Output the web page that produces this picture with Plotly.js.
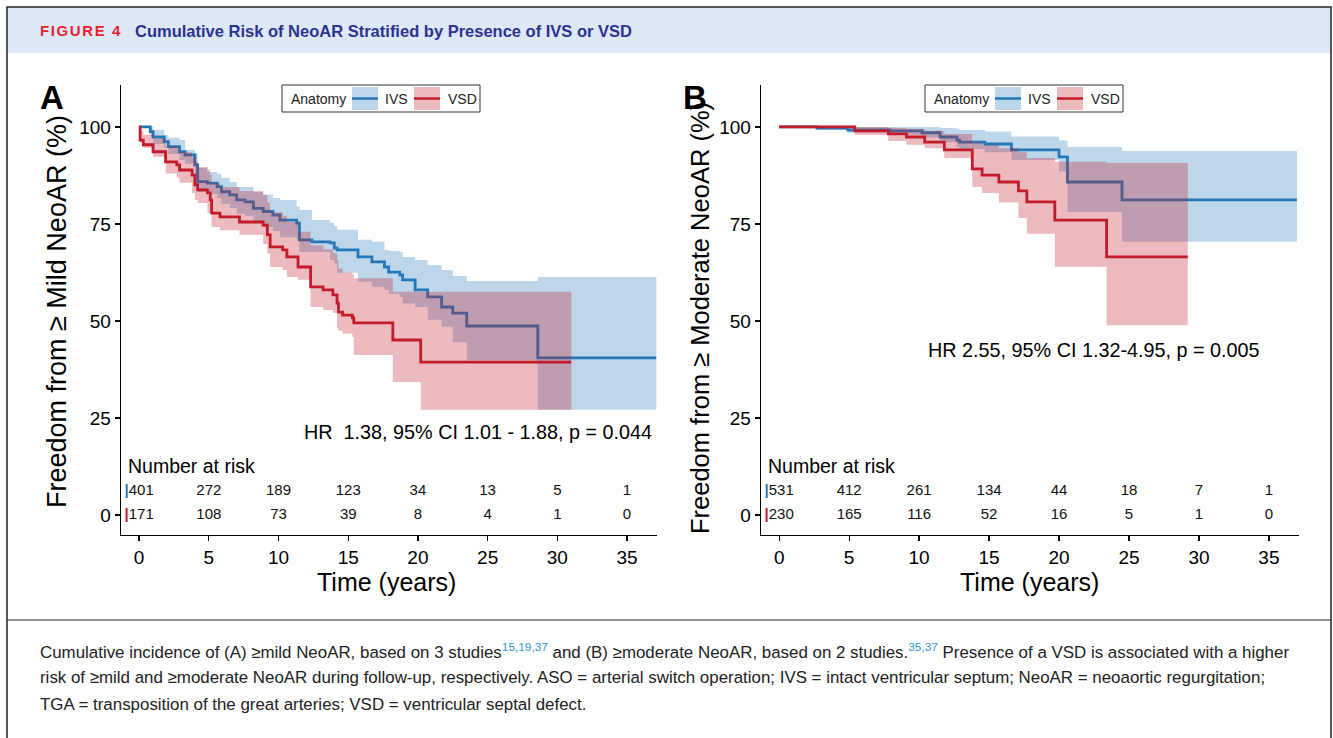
<!DOCTYPE html>
<html><head><meta charset="utf-8">
<script src="https://cdn.plot.ly/plotly-3.0.1.min.js"></script>
<style>html,body{margin:0;padding:0;background:#fff;} #chart{width:1333px;height:738px;}</style>
</head><body><div id="chart"></div>
<script>
// ---------------- DATA ----------------
const riskTimes = [0, 5, 10, 15, 20, 25, 30, 35];
const yTicks = [0, 25, 50, 75, 100];
const riskA_IVS = [401, 272, 189, 123, 34, 13, 5, 1];
const riskA_VSD = [171, 108, 73, 39, 8, 4, 1, 0];
const riskB_IVS = [531, 412, 261, 134, 44, 18, 7, 1];
const riskB_VSD = [230, 165, 116, 52, 16, 5, 1, 0];

// Panel A: freedom from >= mild NeoAR
const A_IVS_t  = [0,0.8,1.0,1.8,2.1,2.9,3.3,4.0,4.2,4.9,5.6,5.9,6.5,7.0,7.6,8.2,8.9,9.6,10.1,11.3,11.5,12.4,13.7,14.0,14.2,15.7,16.7,17.6,17.9,18.7,18.9,19.8,20.7,21.7,22.5,23.5,28.6,37.1];
const A_IVS_s  = [100,98.8,97.4,96.2,94.9,93.6,92.8,90.2,85.9,85.5,84.6,83.3,82.5,81.2,80.7,79.0,78.2,77.3,76.0,75.2,70.9,70.4,70.1,68.8,68.3,66.5,65.2,63.9,62.6,61.9,60.6,58.0,56.2,53.6,52.0,48.7,40.5,40.5];
const A_IVS_hi = [100,100,99.2,97.9,97.2,96.6,94.1,93.3,89.4,88.4,87.9,86.9,85.8,84.5,84.5,83.2,82.5,81.7,81.2,79.4,78.6,76.0,75.3,74.5,73.5,70.9,70.4,68.3,68.0,67.8,66.5,65.7,64.4,63.1,61.6,60.3,61.3,61.3];
const A_IVS_lo = [100,97.7,95.6,94.6,93.0,91.5,90.5,87.6,83.2,82.7,81.7,80.2,79.1,77.6,77.1,75.3,74.2,73.2,71.6,70.9,67.8,67.8,65.7,64.9,62.4,60.1,58.8,58.0,57.0,56.2,54.5,53.6,50.3,48.5,44.5,39.9,27.1,27.1];

const A_VSD_t  = [0,0.07,0.3,1.0,1.9,2.7,2.9,3.8,4.0,4.2,4.9,5.1,5.2,5.8,7.2,8.9,9.2,9.4,10.3,10.6,11.4,12.3,13.2,13.9,14.2,14.3,14.6,15.3,15.4,18.2,20.2,31.0];
const A_VSD_s  = [100,96.6,95.4,93.6,91.0,90.2,88.9,87.6,85.1,83.8,83.0,81.2,77.8,76.8,75.5,74.7,72.2,69.1,68.3,66.5,63.9,58.8,58.0,56.7,54.6,52.3,51.5,50.8,49.5,45.1,39.4,39.4];
const A_VSD_hi = [100,99,98,97,95,94.5,93.5,92.3,91,89.7,89,87.6,85.5,84.5,83.5,82.5,80.5,78,77,75.5,73,69.5,68.5,67.5,65.5,63.5,62.5,62,61,57.5,57.5,57.5];
const A_VSD_lo = [100,95.9,94.6,92.3,88.0,86.9,85.6,83.0,81.2,80.4,77.8,77.8,74.2,73.4,72.2,69.8,67.3,63.9,63.1,61.3,60.6,53.6,52.8,52.1,48.2,47.5,46.7,45.9,41.2,34.3,27.1,27.1];

// Panel B: freedom from >= moderate NeoAR
const B_IVS_t  = [0,2.7,4.9,7.9,10.2,11.5,12.7,12.9,14.7,16.6,20.0,20.6,24.5,37.0];
const B_IVS_s  = [100,99.7,99.2,99.0,98.5,97.4,96.6,96.1,95.6,94.1,92.3,85.8,81.2,81.2];
const B_IVS_hi = [100,100,100,100,100,99.7,99.5,99.2,98.8,97.5,96.5,94.8,93.8,93.8];
const B_IVS_lo = [100,99.2,98.5,98.0,97.2,96.0,94.8,94.3,93.5,91.5,88.5,78.1,70.4,70.4];

const B_VSD_t  = [0,5.4,7.8,9.1,10.4,11.8,13.8,14.5,15.7,17.1,17.7,19.7,23.4,29.2];
const B_VSD_s  = [100,99.0,98.2,97.4,96.1,94.1,89.2,87.6,85.8,83.5,80.7,76.0,66.5,66.5];
const B_VSD_hi = [100,100,99.7,99.5,99.0,98.2,96.0,95.3,94.5,93.5,92.0,91.0,90.7,90.7];
const B_VSD_lo = [100,97.9,96.4,95.4,94.5,92.0,84.5,83.0,80.5,76.5,72.5,64.0,48.9,48.9];

const hrA = "HR  1.38, 95% CI 1.01 - 1.88, p = 0.044";
const hrB = "HR 2.55, 95% CI 1.32-4.95, p = 0.005";

// ---------------- STYLE ----------------
const W = 1333, H = 738;
const px = x => x / W, py = y => 1 - y / H;
const SANS = "Liberation Sans, Arial, sans-serif";
const BLUE = '#2677b8', RED = '#c11b2c';
const BLUEF = 'rgba(38,119,184,0.3)', REDF = 'rgba(193,27,44,0.3)';

function band(t, lo, hi, fill, xa, ya) {
  return [
    {x: t, y: lo, type: 'scatter', mode: 'lines', line: {width: 0, shape: 'hv'}, xaxis: xa, yaxis: ya, hoverinfo: 'skip'},
    {x: t, y: hi, type: 'scatter', mode: 'lines', line: {width: 0, shape: 'hv'}, fill: 'tonexty', fillcolor: fill, xaxis: xa, yaxis: ya, hoverinfo: 'skip'}
  ];
}
function curve(t, s, color, xa, ya) {
  return {x: t, y: s, type: 'scatter', mode: 'lines', line: {color: color, width: 2.8, shape: 'hv'}, xaxis: xa, yaxis: ya};
}
function riskRow(counts, color, yv, xa, ya) {
  return {
    x: riskTimes, y: riskTimes.map(() => yv),
    text: counts.map((c, i) => i === 0 ? `<span style="color:${color}"><b>|</b></span>${c}` : String(c)),
    mode: 'text', type: 'scatter', textposition: 'middle center',
    textfont: {family: SANS, size: 15, color: '#111'}, xaxis: xa, yaxis: ya, cliponaxis: false, hoverinfo: 'skip'
  };
}

const traces = [
  ...band(A_IVS_t, A_IVS_lo, A_IVS_hi, BLUEF, 'x', 'y'),
  curve(A_IVS_t, A_IVS_s, BLUE, 'x', 'y'),
  ...band(A_VSD_t, A_VSD_lo, A_VSD_hi, REDF, 'x', 'y'),
  curve(A_VSD_t, A_VSD_s, RED, 'x', 'y'),
  riskRow(riskA_IVS, BLUE, 6.2, 'x', 'y'),
  riskRow(riskA_VSD, RED, 0, 'x', 'y'),
  ...band(B_IVS_t, B_IVS_lo, B_IVS_hi, BLUEF, 'x2', 'y2'),
  curve(B_IVS_t, B_IVS_s, BLUE, 'x2', 'y2'),
  ...band(B_VSD_t, B_VSD_lo, B_VSD_hi, REDF, 'x2', 'y2'),
  curve(B_VSD_t, B_VSD_s, RED, 'x2', 'y2'),
  riskRow(riskB_IVS, BLUE, 6.2, 'x2', 'y2'),
  riskRow(riskB_VSD, RED, 0, 'x2', 'y2')
];

const xBase = {range: [-1.3, 37.15], tickvals: riskTimes, showline: true, linecolor: '#000', linewidth: 1.3,
  ticks: 'outside', ticklen: 5, tickwidth: 1.3, tickcolor: '#000', showgrid: false, zeroline: false,
  tickfont: {family: SANS, size: 19, color: '#000'}, fixedrange: true};
const yBase = {range: [-5.15, 110.8], tickvals: yTicks, showline: true, linecolor: '#000', linewidth: 1.3,
  ticks: 'outside', ticklen: 5, tickwidth: 1.3, tickcolor: '#000', showgrid: false, zeroline: false,
  tickfont: {family: SANS, size: 19, color: '#000'}, fixedrange: true, domain: [py(535), py(85)]};

function ann(x, y, text, size, o) {
  return Object.assign({xref: 'paper', yref: 'paper', x: px(x), y: py(y), text: text, showarrow: false,
    font: {family: SANS, size: size, color: '#000'}, xanchor: 'center', yanchor: 'middle'}, o || {});
}

const shapes = [
  {type: 'rect', xref: 'paper', yref: 'paper', x0: px(8), x1: px(1330), y0: py(53), y1: py(8), fillcolor: '#dde9f6', line: {width: 0}, layer: 'below'},
  {type: 'rect', xref: 'paper', yref: 'paper', x0: px(7), x1: px(1331), y0: py(745), y1: py(7), line: {color: '#222', width: 1.5}},
  {type: 'line', xref: 'paper', yref: 'paper', x0: px(7), x1: px(1331), y0: py(620), y1: py(620), line: {color: '#222', width: 1.2}}
];
const capFont = {family: SANS, size: 16.9, color: '#222'};
const annotations = [
  ann(38, 31, '<b><span style="letter-spacing:1.6px">FIGURE 4</span></b>', 15, {xanchor: 'left', font: {family: SANS, size: 15, color: '#e5232e'}}),
  ann(133, 31, '<b>Cumulative Risk of NeoAR Stratified by Presence of IVS or VSD</b>', 16.5, {xanchor: 'left', font: {family: SANS, size: 16.5, color: '#2e3192'}}),
  ann(38, 651, 'Cumulative incidence of (A) ≥mild NeoAR, based on 3 studies<sup><span style="color:#2a9ad6">15,19,37</span></sup> and (B) ≥moderate NeoAR, based on 2 studies.<sup><span style="color:#2a9ad6">35,37</span></sup> Presence of a VSD is associated with a higher', 17, {xanchor: 'left', font: capFont}),
  ann(38, 677, 'risk of ≥mild and ≥moderate NeoAR during follow-up, respectively. ASO = arterial switch operation; IVS = intact ventricular septum; NeoAR = neoaortic regurgitation;', 17, {xanchor: 'left', font: capFont}),
  ann(38, 704, 'TGA = transposition of the great arteries; VSD = ventricular septal defect.', 17, {xanchor: 'left', font: capFont})
];

// per-panel decorations: offset, label, y title, title centre, title size, axes, HR text, HR position
[[0, 'A', 'Freedom from ≥ Mild NeoAR (%)', 312, 27, 'x', 'y', hrA, 24.3, 21.4],
 [643, 'B', 'Freedom from ≥ Moderate NeoAR (%)', 318, 25.5, 'x2', 'y2', hrB, 22.5, 42.5]].forEach(p => {
  const o = p[0];
  annotations.push(ann(52 + o, 98, '<b>' + p[1] + '</b>', 33));
  annotations.push(ann(57 + o, p[3], p[2], p[4], {textangle: -90}));
  annotations.push(ann(386 + o, 582, 'Time (years)', 25));
  annotations.push({xref: p[5], yref: p[6], x: -0.95, y: 12.6, text: 'Number at risk', showarrow: false, xanchor: 'left', yanchor: 'middle', font: {family: SANS, size: 19.5, color: '#000'}});
  annotations.push({xref: p[5], yref: p[6], x: p[8], y: p[9], text: p[7], showarrow: false, xanchor: 'center', yanchor: 'middle', font: {family: SANS, size: 19.8, color: '#000'}});
  // legend box
  shapes.push({type: 'rect', xref: 'paper', yref: 'paper', x0: px(282 + o), x1: px(480 + o), y0: py(112), y1: py(85), line: {color: '#333', width: 1}, fillcolor: '#fff'});
  shapes.push({type: 'rect', xref: 'paper', yref: 'paper', x0: px(352 + o), x1: px(378 + o), y0: py(110), y1: py(87), line: {width: 0}, fillcolor: BLUEF});
  shapes.push({type: 'line', xref: 'paper', yref: 'paper', x0: px(352 + o), x1: px(378 + o), y0: py(98.5), y1: py(98.5), line: {color: BLUE, width: 2.5}});
  shapes.push({type: 'rect', xref: 'paper', yref: 'paper', x0: px(414 + o), x1: px(440 + o), y0: py(110), y1: py(87), line: {width: 0}, fillcolor: REDF});
  shapes.push({type: 'line', xref: 'paper', yref: 'paper', x0: px(414 + o), x1: px(440 + o), y0: py(98.5), y1: py(98.5), line: {color: RED, width: 2.5}});
  const lf = {family: SANS, size: 14, color: '#222'};
  annotations.push(ann(289 + o, 98.5, 'Anatomy', 14, {xanchor: 'left', font: lf}));
  annotations.push(ann(383 + o, 98.5, 'IVS', 14, {xanchor: 'left', font: lf}));
  annotations.push(ann(446 + o, 98.5, 'VSD', 14, {xanchor: 'left', font: lf}));
});

const layout = {
  width: W, height: H, margin: {l: 0, r: 0, t: 0, b: 0}, paper_bgcolor: '#fff', plot_bgcolor: '#fff',
  showlegend: false,
  xaxis: Object.assign({}, xBase, {domain: [px(121), px(657)], anchor: 'y'}),
  yaxis: Object.assign({}, yBase, {anchor: 'x'}),
  xaxis2: Object.assign({}, xBase, {domain: [px(761), px(1299)], anchor: 'y2'}),
  yaxis2: Object.assign({}, yBase, {anchor: 'x2'}),
  shapes: shapes, annotations: annotations
};
Plotly.newPlot('chart', traces, layout, {displayModeBar: false, staticPlot: true});
</script></body></html>
